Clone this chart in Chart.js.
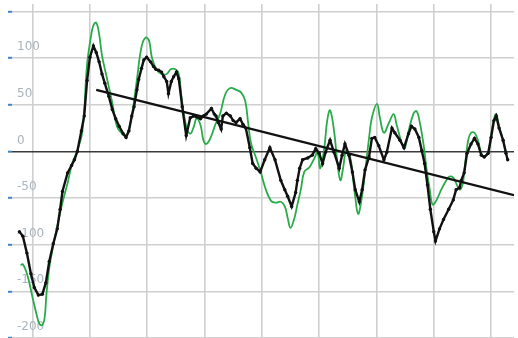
<!DOCTYPE html>
<html>
<head>
<meta charset="utf-8">
<script src="https://cdn.jsdelivr.net/npm/chart.js@4/dist/chart.umd.min.js"></script>
<style>
  html, body { margin: 0; padding: 0; background: #fff; overflow: hidden; }
  canvas { display: block; margin-left: -6px; }
</style>
</head>
<body>
<canvas id="chart" width="524" height="342"></canvas>
<script>
// Measured series (x position, value)
const measuredX = [-2.3,-1.7,-1.0,-0.3,0.3,1.0,1.7,2.3,2.9,3.6,4.3,4.8,5.2,6.1,6.8,7.3,7.8,8.5,9.0,9.5,10.0,10.6,11.1,11.6,12.1,12.6,13.3,13.9,14.5,15.1,15.8,16.3,16.8,17.3,17.7,18.2,18.5,19.0,19.4,19.9,20.6,21.1,21.5,22.0,22.5,22.9,23.4,23.7,24.2,24.6,25.1,25.5,26.1,26.8,27.5,28.1,28.6,29.3,29.8,30.3,31.2,31.7,32.0,32.4,32.9,33.2,33.8,34.5,35.0,35.5,36.2,36.7,37.2,37.9,38.4,39.0,39.7,40.5,41.4,42.3,43.3,44.0,44.5,45.2,45.9,46.2,46.6,47.1,48.0,48.8,49.4,50.0,50.6,51.1,51.9,52.6,53.5,54.0,54.5,55.2,55.8,56.3,57.0,57.5,58.0,58.7,59.2,59.7,60.4,61.3,61.8,62.7,63.2,64.1,64.8,65.6,66.1,66.7,67.4,67.9,68.4,68.9,69.4,70.0,70.3,71.0,71.7,72.6,73.4,73.9,74.5,74.8,75.3,75.8,76.5,77.1,77.7,78.3,78.8,79.5,80.0,80.5,80.9,81.4,82.1,82.6,82.9];
const measuredY = [-86,-91,-109,-131,-146,-154,-153,-141,-118,-99,-83,-62,-43,-23,-15,-9,0,22,38,76,101,113,106,96,83,73,59,45,35,27,19,15,22,38,48,66,77,89,98,101,96,91,88,87,85,80,75,62,75,80,85,78,48,17,36,38,37,35,38,40,46,40,38,31,24,38,41,38,33,31,35,29,25,4,-13,-18,-22,-9,4,-9,-31,-41,-48,-59,-44,-31,-18,-9,-7,-4,3,-2,-13,-1,12,-1,-18,-4,8,-4,-22,-41,-54,-41,-20,-6,14,15,6,-9,-1,25,20,12,4,19,27,24,15,1,-13,-36,-62,-86,-96,-83,-73,-62,-52,-41,-39,-31,-23,-2,8,14,8,-4,-6,-2,15,33,38,25,12,-2,-9];

// Smoothed comparison series
const smoothX = [-2.1,-1.7,-0.9,0.0,0.7,1.2,1.7,2.1,2.4,2.9,3.5,4.3,5.2,6.1,6.9,7.8,8.7,9.5,10.2,10.6,11.1,11.6,12.1,12.8,13.9,14.7,15.6,16.1,16.6,17.3,18.2,19.0,19.7,20.3,20.8,21.6,22.5,23.4,24.1,24.9,25.5,26.0,26.8,27.5,28.1,28.6,29.3,29.8,30.3,31.0,31.9,32.7,33.6,34.5,35.5,36.4,37.1,37.6,38.1,39.0,39.8,40.7,41.6,42.4,43.3,44.0,44.5,45.0,45.7,46.2,46.8,47.4,48.3,49.2,49.7,50.2,50.9,51.4,51.9,52.6,53.2,53.7,54.2,54.7,55.4,55.8,56.3,56.8,57.3,58.0,58.7,59.2,60.1,60.6,61.3,62.2,63.0,63.5,64.4,64.9,65.6,66.5,67.0,67.5,68.2,68.7,69.3,69.8,70.5,71.3,72.2,72.7,73.4,73.9,74.5,75.0,75.3,76.0,76.5,77.1,77.7,78.3,78.8,79.5,80.0,80.5,80.9,81.4,82.1,82.6];
const smoothY = [-122,-121,-133,-157,-175,-185,-186,-178,-154,-125,-104,-80,-55,-34,-13,1,22,93,124,135,138,126,103,83,52,27,19,17,20,38,77,112,122,119,101,88,83,83,88,88,83,57,27,19,26,35,28,12,8,14,29,40,61,68,66,63,54,31,9,-7,-22,-41,-53,-55,-54,-59,-71,-82,-71,-57,-41,-22,-17,-7,-1,-18,4,33,44,22,-13,-31,-17,1,-6,-23,-49,-67,-55,-23,14,36,51,36,20,31,40,29,9,3,22,41,43,33,8,-17,-41,-57,-52,-41,-31,-27,-28,-34,-41,-36,-23,12,20,20,12,-2,-6,-1,17,35,40,27,12,-1];

// Linear trend endpoints
const trendX = [11.1, 84];
const trendY = [66, -47];

// Axis tick values
const yTicks = [-200, -150, -100, -50, 0, 50, 100, 150];
const xTicks = [0, 10, 20, 30, 40, 50, 60, 70, 80];

const toPoints = (xs, ys) => xs.map((x, i) => ({ x, y: ys[i] }));

new Chart(document.getElementById('chart'), {
  type: 'line',
  data: {
    datasets: [
      {
        data: toPoints(measuredX, measuredY),
        borderColor: '#111111',
        backgroundColor: '#111111',
        borderWidth: 2.4,
        pointRadius: 1.7,
        pointBorderWidth: 0,
        tension: 0
      },
      {
        data: toPoints(trendX, trendY),
        borderColor: '#111111',
        borderWidth: 2.2,
        pointRadius: 0,
        tension: 0
      },
      {
        data: toPoints(smoothX, smoothY),
        borderColor: '#2aab4a',
        borderWidth: 1.8,
        pointRadius: 0,
        tension: 0.4
      }
    ]
  },
  options: {
    responsive: false,
    animation: false,
    events: [],
    layout: { padding: { left: 4, top: 0, right: 0, bottom: 0 } },
    plugins: { legend: { display: false }, tooltip: { enabled: false } },
    scales: {
      x: {
        type: 'linear',
        min: -3.6,
        max: 84,
        afterBuildTicks: s => { s.ticks = xTicks.map(v => ({ value: v })); },
        ticks: { display: false },
        border: { display: false },
        grid: { color: '#cfcfcf', lineWidth: 1.6, drawTicks: false }
      },
      y: {
        type: 'linear',
        min: -200,
        max: 158,
        afterBuildTicks: s => { s.ticks = yTicks.map(v => ({ value: v })); },
        // labels sit inside the plot, so no extra room above or below
        afterFit: s => { s.paddingTop = 0; s.paddingBottom = 0; },
        border: { display: false },
        grid: {
          color: c => (c.tick && c.tick.value === 0) ? '#3a3a3a' : '#cfcfcf',
          lineWidth: c => (c.tick && c.tick.value === 0) ? 1.4 : 1.6,
          tickColor: '#3d85c6',
          tickWidth: 2,
          tickLength: 4,
          drawTicks: true
        },
        ticks: {
          mirror: true,
          padding: 5,
          labelOffset: -11,
          color: '#aab4be',
          font: { family: 'DejaVu Sans', size: 12 },
          // the top label falls above the plot edge
          callback: v => (v >= 150 ? '' : String(v))
        }
      }
    }
  }
});
</script>
</body>
</html>
